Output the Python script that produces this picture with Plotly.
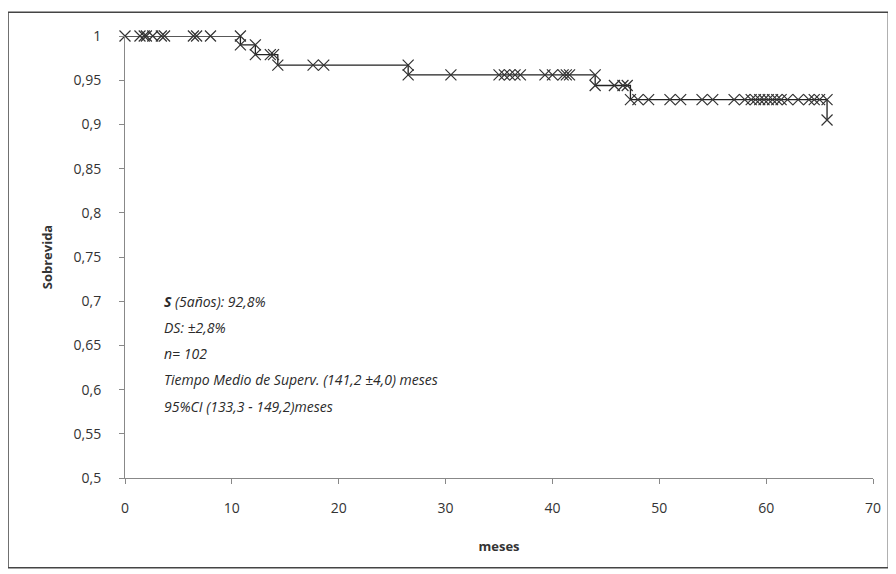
import plotly.graph_objects as go

# Kaplan-Meier step curve (event times and survival)
step_t = [0, 10.8, 12.2, 14.3, 26.5, 44.0, 47.3, 65.7]
step_s = [1.0, 0.990, 0.979, 0.967, 0.956, 0.944, 0.928, 0.905]

# Marker positions (censored / event points)
mark_t = [0, 1.4, 1.8, 2.0, 2.6, 3.4, 3.7, 6.4, 6.7, 8.0,
          10.8, 10.8, 12.2, 12.2, 13.6, 13.9, 14.3,
          17.6, 18.6, 26.5, 26.5,
          30.5, 35.0, 35.5, 36.0, 36.5, 37.0, 39.3, 40.0, 41.0, 41.3, 41.6,
          44.0, 44.0, 45.8, 46.6, 47.0, 47.3,
          48.0, 49.0, 51.0, 52.0, 54.0, 55.0, 57.0, 58.0, 58.6, 59.0, 59.4,
          59.8, 60.2, 60.6, 61.0, 61.4, 62.0, 63.0, 64.0, 64.5, 65.0, 65.7, 65.7]
mark_s = [1.0] * 10 + \
         [1.0, 0.990, 0.990, 0.979, 0.979, 0.979, 0.967,
          0.967, 0.967, 0.967, 0.956] + \
         [0.956] * 11 + \
         [0.956, 0.944, 0.944, 0.944, 0.944, 0.928] + \
         [0.928] * 22 + [0.905]

y_ticks = [0.5, 0.55, 0.6, 0.65, 0.7, 0.75, 0.8, 0.85, 0.9, 0.95, 1.0]
y_labels = ["0,5", "0,55", "0,6", "0,65", "0,7", "0,75", "0,8", "0,85", "0,9", "0,95", "1"]
x_ticks = [0, 10, 20, 30, 40, 50, 60, 70]

notes = ["<b>S</b> (5años): 92,8%",
         "DS: ±2,8%",
         "n= 102",
         "Tiempo Medio de Superv. (141,2 ±4,0) meses",
         "95%CI (133,3 - 149,2)meses"]
note_y = [0.700, 0.670, 0.641, 0.611, 0.581]

FONT = "Open Sans"

fig = go.Figure()
fig.add_trace(go.Scatter(x=step_t, y=step_s, mode="lines",
                         line=dict(shape="hv", color="#222222", width=1.3),
                         hoverinfo="skip", cliponaxis=False))
fig.add_trace(go.Scatter(x=mark_t, y=mark_s, mode="markers",
                         marker=dict(symbol="x-thin-open", size=11, color="#333333",
                                     line=dict(color="#333333", width=1.2)),
                         cliponaxis=False))

for txt, yy in zip(notes, note_y):
    fig.add_annotation(x=3.5, y=yy, xref="x", yref="y", text="<i>" + txt + "</i>",
                       showarrow=False, xanchor="left", yanchor="middle",
                       font=dict(family=FONT, size=14, color="#2a2a2a"))

fig.add_shape(type="rect", xref="paper", yref="paper",
              x0=-0.1564, x1=1.0205, y0=-0.203, y1=1.054,
              line=dict(color="#444444", width=1.5))

fig.update_layout(
    width=896, height=574,
    margin=dict(l=117, r=31, t=28, b=104),
    paper_bgcolor="white", plot_bgcolor="white",
    showlegend=False,
    font=dict(family=FONT, size=14, color="#333333"),
    xaxis=dict(range=[0, 70], tickvals=x_ticks, ticks="outside", ticklen=5,
               tickcolor="#888888", showline=True, linecolor="#888888",
               showgrid=False, zeroline=False, ticklabelstandoff=12,
               title=dict(text="<b>meses</b>", font=dict(size=13), standoff=26)),
    yaxis=dict(range=[0.5, 1.0], tickvals=y_ticks, ticktext=y_labels,
               ticks="outside", ticklen=5, tickcolor="#888888",
               showline=True, linecolor="#888888", showgrid=False, zeroline=False,
               ticklabelstandoff=15,
               title=dict(text="<b>Sobrevida</b>", font=dict(size=13), standoff=18)),
)

fig.write_html("out.html")
